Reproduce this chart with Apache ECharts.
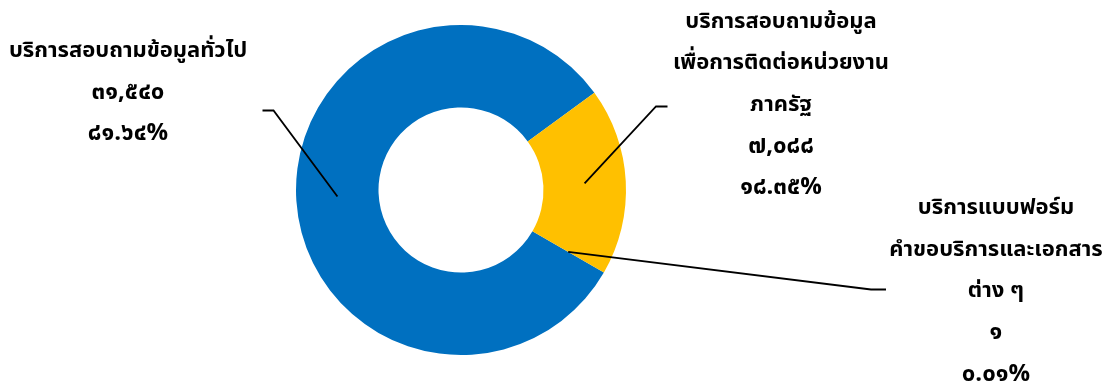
<!DOCTYPE html>
<html>
<head>
<meta charset="utf-8">
<script src="https://cdn.jsdelivr.net/npm/echarts@6/dist/echarts.min.js"></script>
<style>
  html, body { margin: 0; padding: 0; background: #fff; }
  #chart { width: 1113px; height: 385px; }
</style>
</head>
<body>
<div id="chart"></div>
<script>
// Service request counts by channel
const categories = [
  'บริการสอบถามข้อมูลทั่วไป',
  'บริการสอบถามข้อมูล\nเพื่อการติดต่อหน่วยงาน\nภาครัฐ',
  'บริการแบบฟอร์ม\nคำขอบริการและเอกสาร\nต่าง ๆ'
];
const counts = [31540, 7088, 1];
const percentLabels = ['81.64', '18.35', '0.01'];
const colors = ['#0070C0', '#FFC000', '#A5A5A5'];

// Label anchor (centre of text block) and elbow / end of each leader line
const labelAnchors = [
  { x: 128, y: 94, elbow: [273.5, 110.5], end: [262.5, 110.5] },
  { x: 781, y: 106.5, elbow: [656, 106.5], end: [667.5, 106.5] },
  { x: 996, y: 293, elbow: [871, 289.5], end: [886, 289.5] }
];

const CX = 461, CY = 190, R_IN = 82.5, R_OUT = 165;
const FONT = '"Noto Sans Thai", "Noto Sans", sans-serif';

const thaiDigits = '๐๑๒๓๔๕๖๗๘๙';
function toThai(s) {
  return String(s).replace(/[0-9]/g, d => thaiDigits[+d]);
}
function fmtCount(n) {
  return toThai(n.toLocaleString('en-US'));
}

const pieData = (withColor) => categories.map((name, i) => ({
  name: name,
  value: counts[i],
  itemStyle: { color: withColor ? colors[i] : 'rgba(0,0,0,0)' }
}));

const common = {
  type: 'pie',
  center: [CX, CY],
  radius: [R_IN, R_OUT],
  startAngle: -30,
  clockwise: true,
  avoidLabelOverlap: false,
  minShowLabelAngle: 0,
  silent: true,
  emphasis: { disabled: true }
};

const chart = echarts.init(document.getElementById('chart'), null, { renderer: 'canvas' });

chart.setOption({
  animation: false,
  backgroundColor: '#ffffff',
  series: [
    // the doughnut ring
    Object.assign({}, common, {
      z: 2,
      data: pieData(true),
      label: { show: false },
      labelLine: { show: false }
    }),
    // labels and leader lines, drawn above the ring
    Object.assign({}, common, {
      z: 3,
      data: pieData(false),
      label: {
        show: true,
        position: 'outside',
        color: '#000',
        fontFamily: FONT,
        fontWeight: 'bold',
        fontSize: 22,
        lineHeight: 41.5,
        align: 'center',
        formatter: p => p.name + '\n{num|' + fmtCount(counts[p.dataIndex]) + '}\n{num|' +
          toThai(percentLabels[p.dataIndex]) + '%}',
        rich: {
          num: {
            fontFamily: FONT,
            fontWeight: 'bold',
            fontSize: 24,
            lineHeight: 41.5,
            color: '#000'
          }
        }
      },
      labelLine: {
        show: true,
        lineStyle: { color: '#000', width: 1.8 }
      },
      labelLayout: params => {
        const a = labelAnchors[params.dataIndex];
        const p0 = params.labelLinePoints[0];
        const k = ((R_IN + R_OUT) / 2) / R_OUT;
        const start = [CX + (p0[0] - CX) * k, CY + (p0[1] - CY) * k];
        return {
          x: a.x,
          y: a.y,
          align: 'center',
          verticalAlign: 'middle',
          labelLinePoints: [start, a.elbow, a.end]
        };
      }
    })
  ]
});
</script>
</body>
</html>
